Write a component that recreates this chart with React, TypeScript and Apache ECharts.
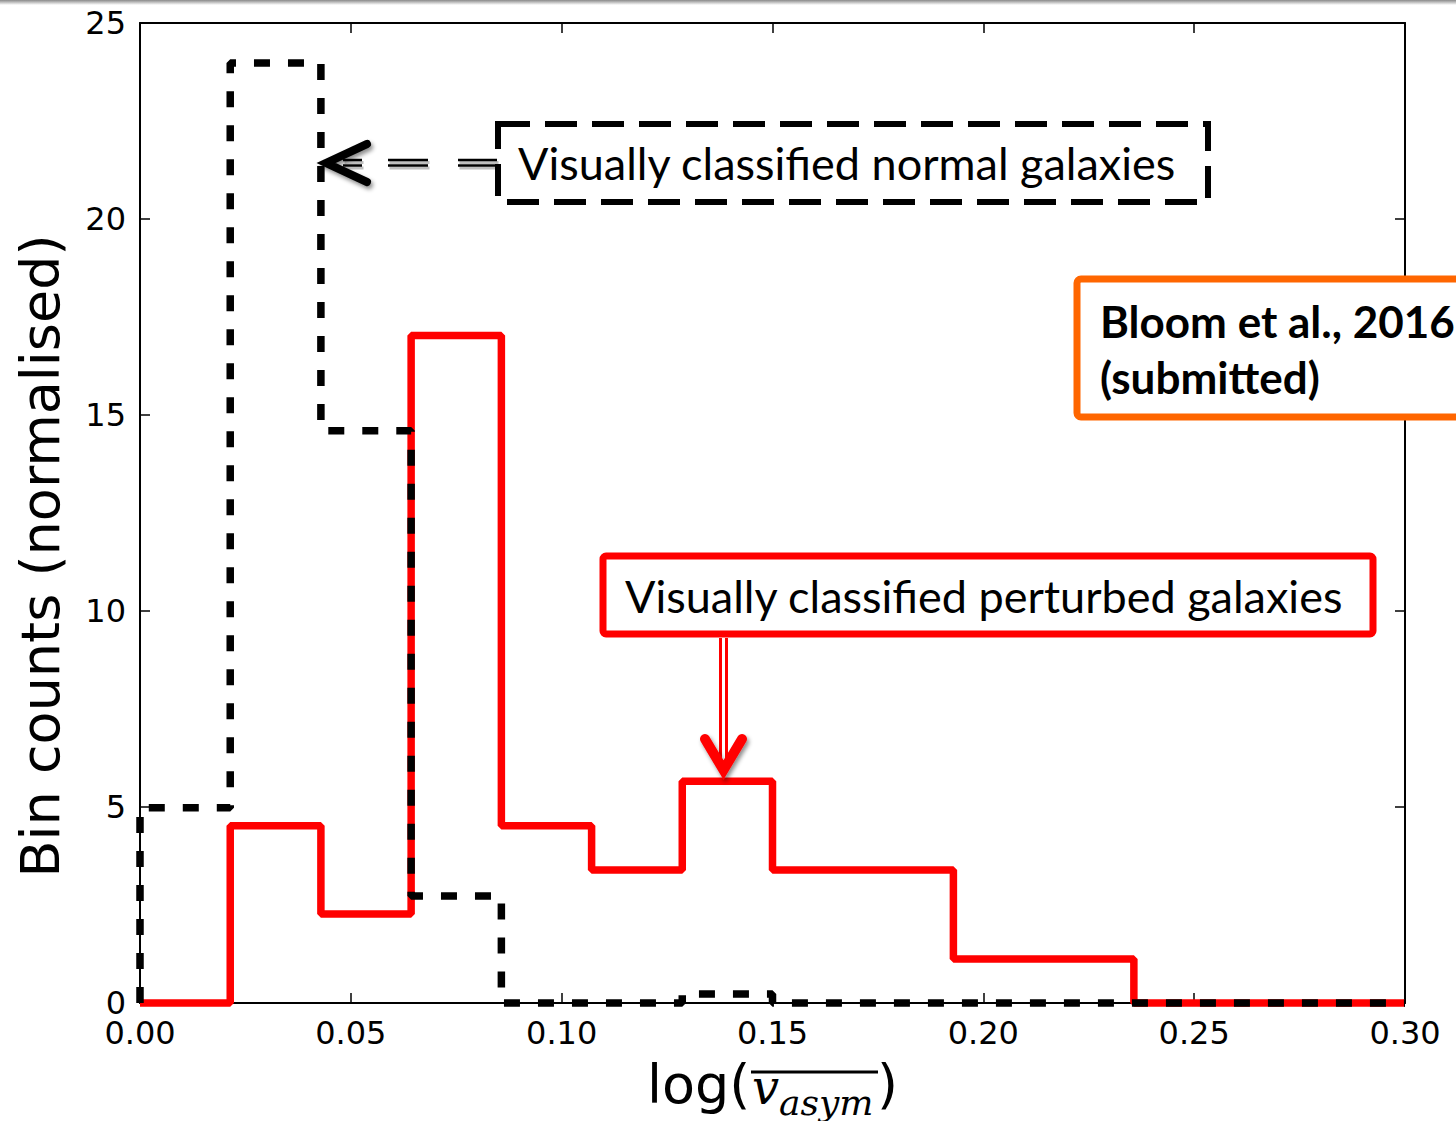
import React, { useEffect, useRef } from "react";
import * as echarts from "echarts";

// Histogram bin edges, log(v_asym)
const binEdges = [0, 0.0214, 0.0429, 0.0643, 0.0857, 0.1071, 0.1286, 0.15, 0.1714, 0.1929, 0.2143, 0.2357, 0.2571, 0.2786, 0.3];
// Normalised bin counts
const perturbedCounts = [0, 4.52, 2.27, 17.03, 4.52, 3.39, 5.66, 3.39, 3.39, 1.12, 1.12, 0, 0, 0];
const normalCounts = [4.98, 23.98, 14.6, 2.73, 0, 0, 0.23, 0, 0, 0, 0, 0, 0, 0];

const xMin = 0;
const xMax = 0.3;
const xStep = 0.05;
const yMin = 0;
const yMax = 25;
const yStep = 5;

const normalLabel = "Visually classified normal galaxies";
const perturbedLabel = "Visually classified perturbed galaxies";
const refLine1 = "Bloom et al., 2016";
const refLine2 = "(submitted)";
const yTitle = "Bin counts (normalised)";

function stepPoints(vals: number[]): number[][] {
  const pts: number[][] = [[binEdges[0], 0]];
  vals.forEach((v, i) => pts.push([binEdges[i], v]));
  const last = vals[vals.length - 1];
  pts.push([binEdges[binEdges.length - 1], last]);
  pts.push([binEdges[binEdges.length - 1], 0]);
  return pts;
}

export default function App() {
  const ref = useRef<HTMLDivElement>(null);
  useEffect(() => {
    document.body.style.margin = "0";
    if (!ref.current) return;
    const chart = echarts.init(ref.current, null, { renderer: "svg" });
    const tickFont = { fontSize: 32, fontFamily: "DejaVu Sans", color: "#000" };
    const axisLineStyle = { show: true, onZero: false, lineStyle: { color: "#000", width: 2 } };
    const tickStyle = { show: true, inside: true, length: 10, lineStyle: { color: "#000", width: 1.5 } };
    const calibri = "Lato, 'Open Sans', sans-serif";
    const shadow = { shadowColor: "rgba(0,0,0,0.45)", shadowBlur: 4, shadowOffsetX: 2, shadowOffsetY: 3 };

    const shaftSegments = [[343, 362], [388, 428], [458, 497]];
    const shaft: any[] = [];
    shaftSegments.forEach(([a, b]) => {
      [160, 165.5].forEach((y) => {
        shaft.push({
          type: "line", z: 100, shape: { x1: a + 1.5, y1: y + 2.5, x2: b + 1.5, y2: y + 2.5 },
          style: { stroke: "rgba(0,0,0,0.25)", lineWidth: 3 },
        });
        shaft.push({
          type: "line", z: 101, shape: { x1: a, y1: y, x2: b, y2: y },
          style: { stroke: "#000", lineWidth: 2.5 },
        });
      });
    });

    chart.setOption({
      animation: false,
      backgroundColor: "#fff",
      grid: { left: 140, right: 51, top: 23, bottom: 118, containLabel: false },
      xAxis: [
        {
          type: "value", min: xMin, max: xMax, interval: xStep, position: "bottom",
          axisLine: axisLineStyle, axisTick: tickStyle,
          axisLabel: { ...tickFont, margin: 17, lineHeight: 26, formatter: (v: number) => v.toFixed(2) },
          splitLine: { show: false },
        },
        {
          type: "value", min: xMin, max: xMax, interval: xStep, position: "top",
          axisLine: axisLineStyle, axisTick: tickStyle, axisLabel: { show: false },
          splitLine: { show: false },
        },
      ],
      yAxis: [
        {
          type: "value", min: yMin, max: yMax, interval: yStep, position: "left",
          axisLine: axisLineStyle, axisTick: tickStyle,
          axisLabel: { ...tickFont, margin: 14, lineHeight: 24 },
          splitLine: { show: false },
        },
        {
          type: "value", min: yMin, max: yMax, interval: yStep, position: "right",
          axisLine: axisLineStyle, axisTick: tickStyle,
          axisLabel: { show: false },
          splitLine: { show: false },
        },
      ],
      series: [
        {
          name: "perturbed", type: "line", step: "end", xAxisIndex: 0, yAxisIndex: 0,
          data: stepPoints(perturbedCounts), symbol: "none", clip: false,
          lineStyle: { color: "#ff0000", width: 7.5, join: "bevel" },
          z: 3,
        },
        {
          name: "normal", type: "line", step: "end", xAxisIndex: 0, yAxisIndex: 0,
          data: stepPoints(normalCounts), symbol: "none", clip: false,
          lineStyle: { color: "#000", width: 7.5, type: [16, 18], cap: "butt" },
          z: 4,
        },
      ],
      graphic: [
        {
          type: "rect", z: 100, shape: { x: 0, y: 0, width: 1456, height: 5 },
          style: {
            fill: new echarts.graphic.LinearGradient(0, 0, 0, 1, [
              { offset: 0, color: "#8a8a8a" },
              { offset: 1, color: "#ffffff" },
            ]),
          },
        },
        // normal galaxies box
        {
          type: "rect", z: 100, shape: { x: 498, y: 124, width: 710, height: 78 },
          style: { fill: "#fff", stroke: "#000", lineWidth: 6, lineDash: [32, 15] },
        },
        {
          type: "text", z: 101, x: 518, y: 163,
          style: { text: normalLabel, font: `45px ${calibri}`, fill: "#000", align: "left", verticalAlign: "middle" },
        },
        // left arrow
        ...shaft,
        {
          type: "polyline", z: 102, shape: { points: [[367, 144], [326, 163], [367, 182]] },
          style: { stroke: "#000", lineWidth: 8, lineCap: "round", lineJoin: "miter", fill: "none", ...shadow },
        },
        // perturbed galaxies box
        {
          type: "rect", z: 100, shape: { x: 603, y: 556, width: 770, height: 78, r: 3 },
          style: { fill: "#fff", stroke: "#ff0000", lineWidth: 7 },
        },
        {
          type: "text", z: 101, x: 625, y: 596,
          style: { text: perturbedLabel, font: `45px ${calibri}`, fill: "#000", align: "left", verticalAlign: "middle" },
        },
        // red arrow
        {
          type: "line", z: 100, shape: { x1: 720.5, y1: 638, x2: 720.5, y2: 768 },
          style: { stroke: "#ff0000", lineWidth: 3 },
        },
        {
          type: "line", z: 100, shape: { x1: 726.5, y1: 638, x2: 726.5, y2: 768 },
          style: { stroke: "#ff0000", lineWidth: 3 },
        },
        {
          type: "polyline", z: 101, shape: { points: [[705, 739], [723.5, 770], [742, 739]] },
          style: { stroke: "#ff0000", lineWidth: 10, lineCap: "round", lineJoin: "miter", fill: "none", ...shadow },
        },
        // reference box
        {
          type: "rect", z: 100, shape: { x: 1077, y: 279, width: 430, height: 138, r: 4 },
          style: { fill: "#fff", stroke: "#ff6600", lineWidth: 7 },
        },
        {
          type: "text", z: 101, x: 1100, y: 321,
          style: { text: refLine1, font: `bold 44px ${calibri}`, fill: "#000", align: "left", verticalAlign: "middle" },
        },
        {
          type: "text", z: 101, x: 1100, y: 377,
          style: { text: refLine2, font: `bold 44px ${calibri}`, fill: "#000", align: "left", verticalAlign: "middle" },
        },
        // y-axis title
        {
          type: "text", z: 101, x: 40, y: 556, rotation: Math.PI / 2,
          style: { text: yTitle, font: "54px 'DejaVu Sans'", fill: "#000", align: "center", verticalAlign: "middle" },
        },
        // x-axis title: log( v_asym ) with overline
        {
          type: "text", z: 101, x: 647, y: 1084,
          style: { text: "log(", font: "54px 'DejaVu Sans'", fill: "#000", align: "left", verticalAlign: "middle" },
        },
        {
          type: "text", z: 101, x: 752, y: 1087,
          style: { text: "v", font: "italic 48px 'DejaVu Serif'", fill: "#000", align: "left", verticalAlign: "middle" },
        },
        {
          type: "text", z: 101, x: 779, y: 1102,
          style: { text: "asym", font: "italic 36px 'DejaVu Serif'", fill: "#000", align: "left", verticalAlign: "middle" },
        },
        {
          type: "text", z: 101, x: 877, y: 1084,
          style: { text: ")", font: "54px 'DejaVu Sans'", fill: "#000", align: "left", verticalAlign: "middle" },
        },
        {
          type: "line", z: 101, shape: { x1: 751, y1: 1072, x2: 878, y2: 1072 },
          style: { stroke: "#000", lineWidth: 3 },
        },
      ],
    });
    return () => chart.dispose();
  }, []);
  return <div ref={ref} style={{ width: 1456, height: 1121 }} />;
}
